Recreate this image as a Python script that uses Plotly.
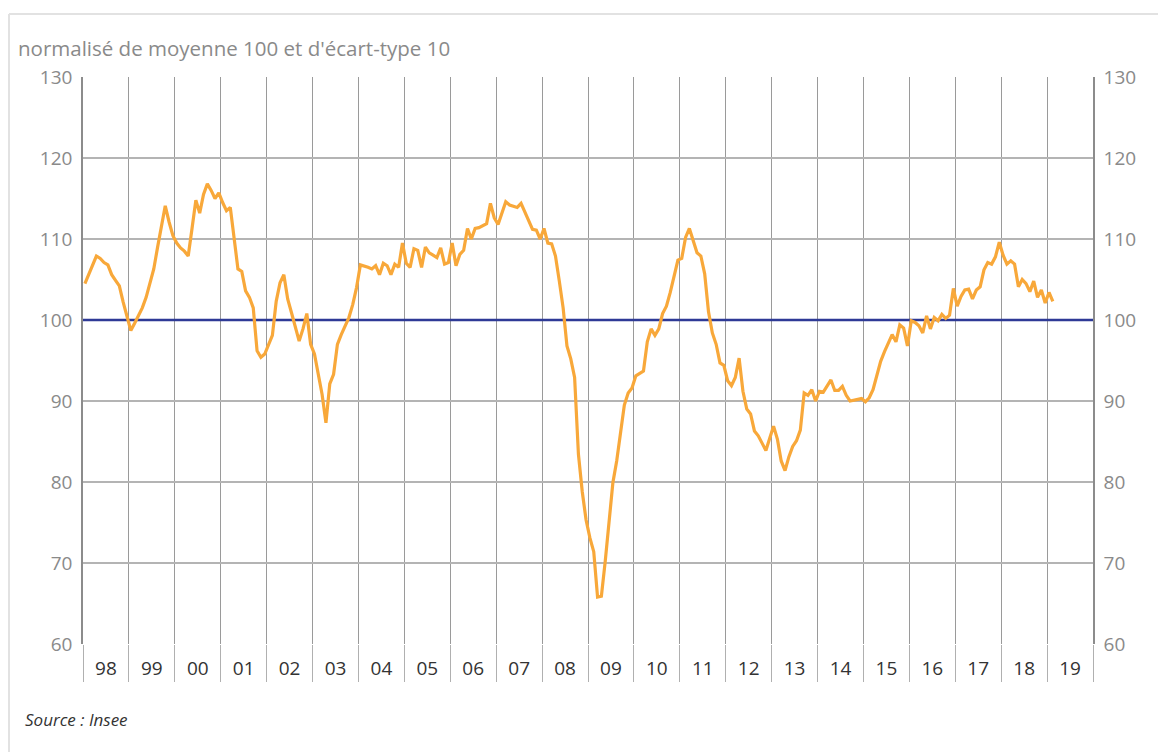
import plotly.graph_objects as go

# Monthly values, January 1998 to February 2019
v1998 = [104.5, 105.7, 106.8, 107.9, 107.6, 107.1, 106.8, 105.6, 104.9, 104.2, 102.2, 100.4]
v1999 = [98.7, 99.6, 100.5, 101.5, 102.8, 104.4, 106.3, 109.0, 111.8, 114.1, 112.1, 110.4]
v2000 = [109.5, 108.9, 108.5, 107.9, 111.3, 114.8, 113.2, 115.5, 116.8, 116.0, 115.0, 115.7]
v2001 = [114.5, 113.5, 113.9, 109.8, 106.3, 106.0, 103.6, 102.8, 101.5, 96.2, 95.4, 95.8]
v2002 = [96.9, 98.1, 102.3, 104.6, 105.6, 102.6, 100.9, 99.3, 97.4, 98.9, 100.8, 97.0]
v2003 = [95.8, 93.3, 90.8, 87.3, 92.1, 93.3, 97.0, 98.2, 99.3, 100.3, 101.9, 104.0]
v2004 = [106.8, 106.7, 106.5, 106.3, 106.7, 105.6, 107.0, 106.7, 105.6, 106.9, 106.5, 109.5]
v2005 = [107.0, 106.5, 108.8, 108.6, 106.5, 109.0, 108.3, 108.0, 107.7, 108.9, 106.9, 107.1]
v2006 = [109.5, 106.7, 108.1, 108.6, 111.3, 110.0, 111.3, 111.4, 111.6, 111.9, 114.4, 112.6]
v2007 = [111.8, 113.3, 114.6, 114.2, 114.1, 113.9, 114.4, 113.4, 112.4, 111.2, 111.1, 110.0]
v2008 = [111.3, 109.5, 109.4, 107.9, 104.8, 101.5, 96.8, 95.2, 92.9, 83.4, 78.8, 75.3]
v2009 = [73.1, 71.4, 65.8, 65.9, 70.2, 75.1, 79.9, 82.6, 85.8, 89.5, 91.0, 91.6]
v2010 = [93.1, 93.4, 93.7, 97.3, 98.9, 98.1, 98.9, 100.8, 101.7, 103.4, 105.6, 107.4]
v2011 = [107.6, 110.2, 111.3, 109.8, 108.3, 107.9, 105.7, 101.0, 98.4, 97.0, 94.7, 94.4]
v2012 = [92.5, 91.9, 92.9, 95.3, 91.2, 89.0, 88.4, 86.3, 85.7, 84.8, 83.9, 85.4]
v2013 = [86.9, 85.3, 82.6, 81.4, 83.1, 84.4, 85.1, 86.4, 91.0, 90.7, 91.4, 90.0]
v2014 = [91.2, 91.1, 91.8, 92.6, 91.3, 91.3, 91.8, 90.7, 90.0, 90.1, 90.1, 90.3]
v2015 = [89.9, 90.4, 91.4, 93.3, 94.9, 96.1, 97.2, 98.2, 97.3, 99.4, 99.0, 96.8]
v2016 = [99.9, 99.7, 99.3, 98.4, 100.5, 98.9, 100.3, 99.9, 100.7, 100.2, 100.6, 103.9]
v2017 = [101.7, 102.9, 103.7, 103.8, 102.6, 103.7, 104.1, 106.2, 107.1, 106.9, 107.8, 109.6]
v2018 = [108.0, 106.9, 107.3, 106.9, 104.1, 105.0, 104.5, 103.5, 104.8, 102.8, 103.7, 102.1]
v2019 = [103.4, 102.3]

values = (v1998 + v1999 + v2000 + v2001 + v2002 + v2003 + v2004 + v2005 + v2006 + v2007
          + v2008 + v2009 + v2010 + v2011 + v2012 + v2013 + v2014 + v2015 + v2016 + v2017
          + v2018 + v2019)

year_labels = ["98", "99", "00", "01", "02", "03", "04", "05", "06", "07", "08",
               "09", "10", "11", "12", "13", "14", "15", "16", "17", "18", "19"]
y_ticks = [60, 70, 80, 90, 100, 110, 120, 130]
reference_level = 100

# month index, point centred in its month
months = [i + 0.5 for i in range(len(values))]
n_years = len(year_labels)
x_range = [0, 12 * n_years]
year_bounds = [12 * k for k in range(n_years + 1)]
year_centres = [12 * k + 6 for k in range(n_years)]

FONT = "Open Sans"
ORANGE = "#F8A83A"
BLUE = "#2E3A96"

# page offset: the figure sits ~7px into the page
OX, OY = 7, 7
L, T, PW, PH = 82 - OX, 76 - OY, 1010, 567

fig = go.Figure()
# reference line at 100, drawn across the full axis range, below the series
fig.add_trace(go.Scatter(
    x=x_range, y=[reference_level, reference_level], mode="lines",
    line=dict(color=BLUE, width=2.3), showlegend=False, hoverinfo="skip"))
fig.add_trace(go.Scatter(
    x=months, y=values, mode="lines",
    line=dict(color=ORANGE, width=3.2), showlegend=False, hoverinfo="x+y"))
# invisible copy to carry the right-hand axis
fig.add_trace(go.Scatter(
    x=months, y=values, mode="lines", yaxis="y2",
    line=dict(color="rgba(0,0,0,0)", width=0), showlegend=False, hoverinfo="skip"))

# light frame around the figure (top and left edges)
fx = (8 - 82) / PW
fy = (643 - 13) / PH
fig.add_shape(type="line", xref="paper", yref="paper", x0=fx, x1=1.1,
              y0=fy, y1=fy, line=dict(color="#e2e2e2", width=2), layer="above")
fig.add_shape(type="line", xref="paper", yref="paper", x0=fx, x1=fx,
              y0=fy, y1=-0.3, line=dict(color="#e2e2e2", width=2), layer="above")

fig.update_layout(
    width=1166, height=752,
    margin=dict(l=L, r=1166 - L - PW, t=T, b=752 - T - PH),
    paper_bgcolor="white", plot_bgcolor="white",
    font=dict(family=FONT, size=19, color="#8a8a8a"),
    title=dict(text="normalisé de moyenne 100 et d'écart-type 10",
               x=(18 - OX - 1) / 1166, xanchor="left", xref="container",
               y=1 - (48 - OY) / 752, yanchor="middle", yref="container",
               font=dict(family=FONT, size=20.5, color="#8a8a8a")),
    xaxis=dict(
        range=x_range, tickmode="array", tickvals=year_centres,
        ticktext=year_labels, ticks="outside", ticklen=7,
        tickcolor="rgba(0,0,0,0)", showgrid=False, zeroline=False, showline=False,
        tickfont=dict(family=FONT, size=19, color="#333333"),
        minor=dict(tickmode="array", tickvals=year_bounds, ticks="outside",
                   ticklen=37, tickcolor="#b0b0b0", tickwidth=1,
                   showgrid=True, gridcolor="#9a9a9a", gridwidth=1),
        fixedrange=True),
    yaxis=dict(
        range=[60, 130], tickmode="array", tickvals=y_ticks,
        showgrid=True, gridcolor="#b4b4b4", gridwidth=1.5, zeroline=False,
        showline=True, linecolor="#8c8c8c", linewidth=1.5,
        ticks="outside", ticklen=5, tickcolor="rgba(0,0,0,0)",
        tickfont=dict(family=FONT, size=19, color="#8a8a8a")),
    yaxis2=dict(
        range=[60, 130], tickmode="array", tickvals=y_ticks, overlaying="y",
        side="right", showgrid=False, zeroline=False,
        showline=True, linecolor="#8c8c8c", linewidth=1.5,
        ticks="outside", ticklen=5, tickcolor="rgba(0,0,0,0)",
        tickfont=dict(family=FONT, size=19, color="#8a8a8a")),
    annotations=[dict(
        text="<i>Source : Insee</i>", xref="paper", yref="paper",
        x=(22 - 82) / PW, y=(643 - 718) / PH, xanchor="left", yanchor="middle",
        showarrow=False, font=dict(family=FONT, size=17, color="#333333"))],
)

fig.write_html("out.html")
